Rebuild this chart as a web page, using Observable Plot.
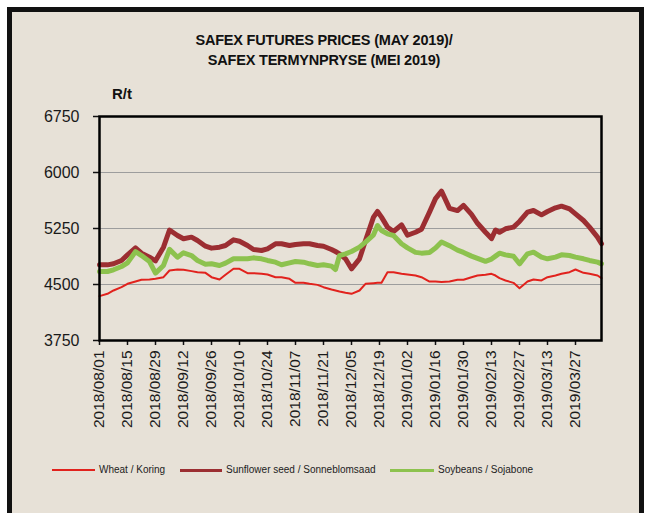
<!DOCTYPE html>
<html>
<head>
<meta charset="utf-8">
<script src="https://cdn.jsdelivr.net/npm/d3@7"></script>
<script src="https://cdn.jsdelivr.net/npm/@observablehq/plot@0.6"></script>
<style>
  html, body { margin: 0; padding: 0; background: #ffffff; width: 648px; height: 513px; overflow: hidden; }
  body { position: relative; font-family: "Liberation Sans", Arial, sans-serif; }
  #frame { position: absolute; left: 7px; top: 7px; width: 637px; height: 530px; box-sizing: border-box;
           border: 5px solid #111; background: #e7e1d7; }
  #title { position: absolute; left: 0; width: 648px; top: 30px; text-align: center; font-weight: bold;
           font-size: 14.5px; line-height: 20px; color: #111; letter-spacing: -0.2px; }
  #unit { position: absolute; left: 112px; top: 85px; font-weight: bold; font-size: 15px; color: #111; }
  #chart { position: absolute; left: 0; top: 100px; }
  .leg { position: absolute; top: 463px; font-size: 10px; color: #222; white-space: nowrap; line-height: 14px; }
  .sw { position: absolute; height: 0; }
</style>
</head>
<body>
<div id="frame"></div>
<div id="title">SAFEX FUTURES PRICES (MAY 2019)/<br>SAFEX TERMYNPRYSE (MEI 2019)</div>
<div id="unit">R/t</div>
<div id="chart"></div>
<div id="legend"></div>
<script>
// ---- data ----
const dates = [
  "2018-08-01","2018-08-05","2018-08-08","2018-08-12","2018-08-15","2018-08-19","2018-08-22","2018-08-26",
  "2018-08-29","2018-09-02","2018-09-05","2018-09-09","2018-09-12","2018-09-16","2018-09-19","2018-09-23",
  "2018-09-26","2018-09-30","2018-10-03","2018-10-07","2018-10-10","2018-10-14","2018-10-17","2018-10-21",
  "2018-10-24","2018-10-28","2018-10-31","2018-11-04","2018-11-07","2018-11-11","2018-11-14","2018-11-18",
  "2018-11-21","2018-11-25","2018-11-27","2018-11-29","2018-12-02","2018-12-05","2018-12-09","2018-12-12",
  "2018-12-16","2018-12-18","2018-12-20","2018-12-23","2018-12-26","2018-12-30","2019-01-02","2019-01-06",
  "2019-01-09","2019-01-13","2019-01-16","2019-01-19","2019-01-23","2019-01-27","2019-01-30","2019-02-03",
  "2019-02-06","2019-02-10","2019-02-13","2019-02-15","2019-02-17","2019-02-20","2019-02-24","2019-02-27",
  "2019-03-03","2019-03-06","2019-03-10","2019-03-13","2019-03-17","2019-03-20","2019-03-24","2019-03-27",
  "2019-03-31","2019-04-03","2019-04-07","2019-04-09"
];
const wheat = [
  4344,4375,4420,4464,4509,4540,4563,4567,
  4576,4598,4688,4701,4697,4679,4665,4656,
  4598,4567,4630,4710,4710,4652,4652,4643,
  4634,4598,4598,4576,4522,4522,4509,4495,
  4464,4433,4420,4406,4389,4375,4420,4509,
  4518,4522,4522,4665,4665,4643,4634,4621,
  4598,4540,4540,4535,4540,4563,4563,4598,
  4621,4630,4643,4620,4585,4554,4522,4451,
  4540,4567,4554,4598,4621,4643,4665,4701,
  4656,4643,4621,4585
];
const sunflower = [
  4763,4763,4777,4822,4897,4990,4920,4866,
  4817,5000,5230,5156,5112,5134,5089,5013,
  4987,5000,5022,5098,5080,5022,4969,4955,
  4978,5045,5045,5022,5036,5045,5045,5022,
  5013,4969,4942,4911,4844,4710,4844,5089,
  5402,5478,5402,5268,5210,5299,5160,5200,
  5240,5470,5650,5750,5520,5490,5560,5440,
  5320,5200,5115,5230,5200,5246,5268,5344,
  5469,5491,5433,5478,5527,5549,5513,5446,
  5357,5268,5134,5045
];
const soybeans = [
  4674,4674,4697,4741,4790,4940,4888,4808,
  4652,4755,4970,4866,4924,4888,4822,4772,
  4777,4755,4786,4844,4844,4844,4857,4844,
  4822,4799,4764,4790,4808,4799,4777,4755,
  4764,4746,4701,4888,4911,4942,5000,5067,
  5165,5290,5223,5179,5156,5045,4990,4930,
  4920,4930,4990,5070,5020,4960,4930,4880,
  4850,4810,4840,4880,4920,4897,4879,4777,
  4911,4933,4866,4844,4866,4897,4888,4866,
  4844,4822,4799,4777
];
const yTicks = [3750, 4500, 5250, 6000, 6750];
const xTickLabels = [
  "2018/08/01","2018/08/15","2018/08/29","2018/09/12","2018/09/26","2018/10/10","2018/10/24",
  "2018/11/07","2018/11/21","2018/12/05","2018/12/19","2019/01/02","2019/01/16","2019/01/30",
  "2019/02/13","2019/02/27","2019/03/13","2019/03/27"
];
const seriesNames = ["Wheat / Koring", "Sunflower seed / Sonneblomsaad", "Soybeans / Sojabone"];
const seriesColors = ["#e1221d", "#9c2e32", "#8dc24e"];
const seriesWidths = [2, 5, 5];

// ---- build ----
const parseDate = d3.utcParse("%Y-%m-%d");
const parseTick = d3.utcParse("%Y/%m/%d");
const table = dates.map((d, i) => ({date: parseDate(d), wheat: wheat[i], sunflower: sunflower[i], soybeans: soybeans[i]}));
const xTicks = xTickLabels.map(parseTick);
const keys = ["wheat", "sunflower", "soybeans"];

const chart = Plot.plot({
  width: 648,
  height: 340,
  marginTop: 16,
  marginBottom: 100,
  marginLeft: 99,
  marginRight: 47,
  style: {background: "transparent", fontFamily: "'Liberation Sans', Arial, sans-serif", color: "#1a1a1a", overflow: "visible"},
  x: {type: "utc", domain: [parseDate("2018-08-01"), parseDate("2019-04-09")]},
  y: {domain: [3750, 6750]},
  marks: [
    Plot.gridY(yTicks, {stroke: "#9d9d9d", strokeOpacity: 1, strokeWidth: 1.2}),
    Plot.axisY(yTicks, {tickSize: 6, tickPadding: 14, fontSize: 16, tickFormat: d => String(d), label: null, stroke: "#111", strokeWidth: 1.5}),
    Plot.axisX(xTicks, {tickSize: 5, tickPadding: 5, tickRotate: -90, fontSize: 15.5, tickFormat: d3.utcFormat("%Y/%m/%d"), label: null, stroke: "#111", strokeWidth: 1.5}),
    ...keys.map((k, i) => Plot.line(table, {x: "date", y: k, stroke: seriesColors[i], strokeWidth: seriesWidths[i], strokeLinejoin: "round", strokeLinecap: "round"})),
    Plot.frame({stroke: "#000", strokeWidth: 2.5})
  ]
});
document.getElementById("chart").appendChild(chart);

// ---- legend ----
const legend = document.getElementById("legend");
const legPos = [[52, 99], [180, 226], [390, 438]];
seriesNames.forEach((name, i) => {
  const sw = document.createElement("div");
  sw.className = "sw";
  sw.style.left = legPos[i][0] + "px";
  sw.style.width = (legPos[i][1] - legPos[i][0] - 4) + "px";
  sw.style.top = (i === 0 ? 469 : 468.5) + "px";
  sw.style.borderTop = (i === 0 ? 2 : 3) + "px solid " + seriesColors[i];
  legend.appendChild(sw);
  const t = document.createElement("div");
  t.className = "leg";
  t.style.left = legPos[i][1] + "px";
  t.textContent = name;
  legend.appendChild(t);
});
</script>
</body>
</html>
